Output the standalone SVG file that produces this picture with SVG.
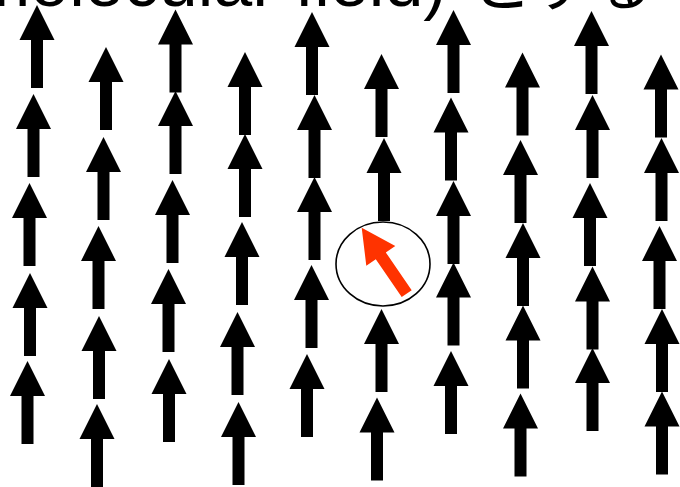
<svg xmlns="http://www.w3.org/2000/svg" xmlns:xlink="http://www.w3.org/1999/xlink" width="680" height="487" viewBox="0 0 680 487">
<style>
.t{font-family:"Liberation Sans",Arial,sans-serif;font-size:70px;fill:#000}
.j{font-family:"Noto Sans CJK JP",sans-serif;font-size:62px}
.spin{fill:#000}
</style>
<defs>
<path id="a" d="M0,0 L17.5,35 L6,35 L6,83 L-6,83 L-6,35 L-17.5,35 Z"/>
</defs>
<rect width="680" height="487" fill="#fff"/>
<text class="t" y="6"><tspan x="-28">molecular field)</tspan><tspan class="j" x="470">とする</tspan></text>
<g id="spins" class="spin">
<use xlink:href="#a" x="37" y="5"/>
<use xlink:href="#a" x="33.5" y="94"/>
<use xlink:href="#a" x="29.5" y="183"/>
<use xlink:href="#a" x="30" y="273"/>
<use xlink:href="#a" x="27.5" y="361"/>
<use xlink:href="#a" x="106" y="47"/>
<use xlink:href="#a" x="103.5" y="137"/>
<use xlink:href="#a" x="98.5" y="226"/>
<use xlink:href="#a" x="99" y="316"/>
<use xlink:href="#a" x="97" y="404"/>
<use xlink:href="#a" x="175.5" y="9.5"/>
<use xlink:href="#a" x="175.5" y="91"/>
<use xlink:href="#a" x="172.5" y="180"/>
<use xlink:href="#a" x="168.5" y="269"/>
<use xlink:href="#a" x="169" y="359"/>
<use xlink:href="#a" x="245" y="52"/>
<use xlink:href="#a" x="245" y="134"/>
<use xlink:href="#a" x="242" y="222"/>
<use xlink:href="#a" x="237.5" y="312"/>
<use xlink:href="#a" x="238.5" y="402"/>
<use xlink:href="#a" x="312" y="12"/>
<use xlink:href="#a" x="314.5" y="95"/>
<use xlink:href="#a" x="314.5" y="177"/>
<use xlink:href="#a" x="311.5" y="265"/>
<use xlink:href="#a" x="307" y="354"/>
<use xlink:href="#a" x="381.5" y="54"/>
<use xlink:href="#a" x="384" y="138"/>
<use xlink:href="#a" x="381.5" y="309"/>
<use xlink:href="#a" x="377" y="397.5"/>
<use xlink:href="#a" x="453.5" y="10"/>
<use xlink:href="#a" x="451" y="97.5"/>
<use xlink:href="#a" x="453.5" y="181"/>
<use xlink:href="#a" x="453.5" y="262.5"/>
<use xlink:href="#a" x="451" y="351"/>
<use xlink:href="#a" x="522.5" y="52.5"/>
<use xlink:href="#a" x="520.5" y="140"/>
<use xlink:href="#a" x="523" y="223"/>
<use xlink:href="#a" x="523" y="305.5"/>
<use xlink:href="#a" x="520.5" y="393.5"/>
<use xlink:href="#a" x="591.5" y="11"/>
<use xlink:href="#a" x="592.5" y="95"/>
<use xlink:href="#a" x="590" y="183"/>
<use xlink:href="#a" x="592.5" y="266.5"/>
<use xlink:href="#a" x="592.5" y="348"/>
<use xlink:href="#a" x="661" y="54.5"/>
<use xlink:href="#a" x="661.5" y="138"/>
<use xlink:href="#a" x="659.5" y="226"/>
<use xlink:href="#a" x="662" y="309"/>
<use xlink:href="#a" x="662" y="391.5"/>
</g>
<g id="flipped">
<ellipse cx="383" cy="264" rx="47" ry="42" fill="none" stroke="#000" stroke-width="1.6"/>
<polygon fill="#ff3300" points="361.7,227.7 395.3,245.9 385.8,252.4 411.7,290.3 401.7,297.1 375.8,259.2 366.3,265.7"/>
</g>
</svg>
